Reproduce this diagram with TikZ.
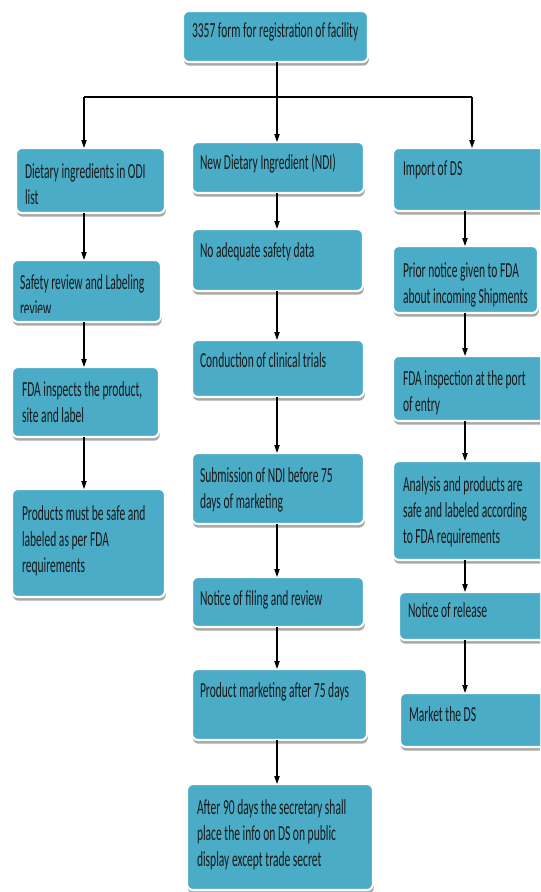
\documentclass[tikz,border=0pt]{standalone}
\usepackage{fontspec}
\newfontfamily\boxfont[FakeStretch=0.537]{Carlito}
\usetikzlibrary{shadows,arrows.meta}
\definecolor{boxfill}{RGB}{74,172,198}
\tikzset{
 boxst/.style={rectangle, rounded corners=4.5pt, fill=boxfill, draw=white, line width=1.6pt,
   inner sep=0pt, outer sep=0pt,
   drop shadow={shadow xshift=0.6pt, shadow yshift=-2.8pt, fill=black!45, opacity=0.75}},
 txt/.style={anchor=base west, inner sep=0pt, outer sep=0pt,
   font=\boxfont\fontsize{16.1}{19.5}\selectfont, text=black!90},
 arr/.style={line width=0.8pt, -{Triangle[length=6pt,width=4pt]}},
 conn/.style={line width=0.8pt}
}
\newcommand\mkbox[5]{\node[boxst, minimum width={(#4-#2)*0.75pt}, minimum height={(#5-#3)*0.75pt}] (#1) at ({(#2+#4)/2},{(#3+#5)/2}) {};}
\newcommand\mktxt[4]{\node[txt] (#1) at (#2,#3) {\begin{tabular}[t]{@{}l@{}}#4\end{tabular}};}
\begin{document}
\begin{tikzpicture}[x=0.75pt,y=-0.75pt]
\useasboundingbox (0,0) rectangle (540,892);
\fill[white] (0,0) rectangle (540,892);
\clip (0,0) rectangle (540,892);
% boxes
\mkbox{top}{183}{11}{368}{62}
\mkbox{odi}{16}{148}{165}{213}
\mkbox{ndi}{192}{142}{364}{193}
\mkbox{imp}{393}{148}{545}{211}
\mkbox{saf}{12}{260}{161}{322}
\mkbox{fdai}{12}{367}{159}{437}
\mkbox{prod}{12}{489}{165}{597}
\mkbox{noad}{192}{229}{363}{291}
\mkbox{cond}{192}{340}{364}{397}
\mkbox{subm}{192}{453}{364}{524}
\mkbox{noti}{192}{577}{364}{627}
\mkbox{pmkt}{192}{669}{367}{740}
\mkbox{aft}{187}{784}{373}{890}
\mkbox{prior}{393}{246}{538}{313}
\mkbox{port}{393}{356}{545}{421}
\mkbox{anal}{393}{461}{545}{560}
\mkbox{rel}{399}{592}{545}{640}
\mkbox{mkt}{400}{693}{545}{747}
% texts
\mktxt{topt}{192}{38}{3357 form for registration of facility}
\mktxt{odit}{25}{178}{Dietary ingredients in ODI\\list}
\mktxt{ndit}{200}{169}{New Dietary Ingredient (NDI)}
\mktxt{impt}{403}{175}{Import of DS}
\begin{scope}
\clip (12,260) rectangle (161,312);
\mktxt{saft}{20}{289}{Safety review and Labeling\\review}
\end{scope}
\mktxt{fdait}{22}{396}{FDA inspects the product,\\site and label}
\mktxt{prodt}{22}{520}{Products must be safe and\\labeled as per FDA\\requirements}
\mktxt{noadt}{200}{257}{No adequate safety data}
\mktxt{condt}{200}{367}{Conduction of clinical trials}
\mktxt{submt}{200}{482}{Submission of NDI before 75\\days of marketing}
\mktxt{notit}{200}{605}{Notice of filing and review}
\mktxt{pmktt}{200}{697}{Product marketing after 75 days}
\mktxt{aftt}{197}{814}{After 90 days the secretary shall\\place the info on DS on public\\display except trade secret}
\mktxt{priort}{403}{277}{Prior notice given to FDA\\about incoming Shipments}
\mktxt{portt}{403}{385}{FDA inspection at the port\\of entry}
\mktxt{analt}{403}{491}{Analysis and products are\\safe and labeled according\\to FDA requirements}
\mktxt{relt}{408}{617}{Notice of release}
\mktxt{mktt}{409}{721}{Market the DS}
% connector coordinates
\coordinate (hl) at (84,97);
\coordinate (hc) at (277,97);
\coordinate (hr) at (472,97);
\coordinate (lx) at (84,0);
\coordinate (cx) at (277,0);
\coordinate (rx) at (465,0);
% connectors
\draw[conn] (hl) -- (hr);
\draw[arr] (top.south -| hc) -- (ndi.north -| hc);
\draw[arr] (hl) -- (odi.north -| hl);
\draw[arr] (hr) -- (imp.north -| hr);
\draw[arr] (odi.south -| lx) -- (saf.north -| lx);
\draw[arr] (saf.south -| lx) -- (fdai.north -| lx);
\draw[arr] (fdai.south -| lx) -- (prod.north -| lx);
\draw[arr] (ndi.south -| cx) -- (noad.north -| cx);
\draw[arr] (noad.south -| cx) -- (cond.north -| cx);
\draw[arr] (cond.south -| cx) -- (subm.north -| cx);
\draw[arr] (subm.south -| cx) -- (noti.north -| cx);
\draw[arr] (noti.south -| cx) -- (pmkt.north -| cx);
\draw[arr] (pmkt.south -| cx) -- (aft.north -| cx);
\draw[arr] (imp.south -| rx) -- (prior.north -| rx);
\draw[arr] (prior.south -| rx) -- (port.north -| rx);
\draw[arr] (port.south -| rx) -- (anal.north -| rx);
\draw[arr] (anal.south -| rx) -- (rel.north -| rx);
\draw[arr] (rel.south -| rx) -- (mkt.north -| rx);
\end{tikzpicture}
\end{document}
